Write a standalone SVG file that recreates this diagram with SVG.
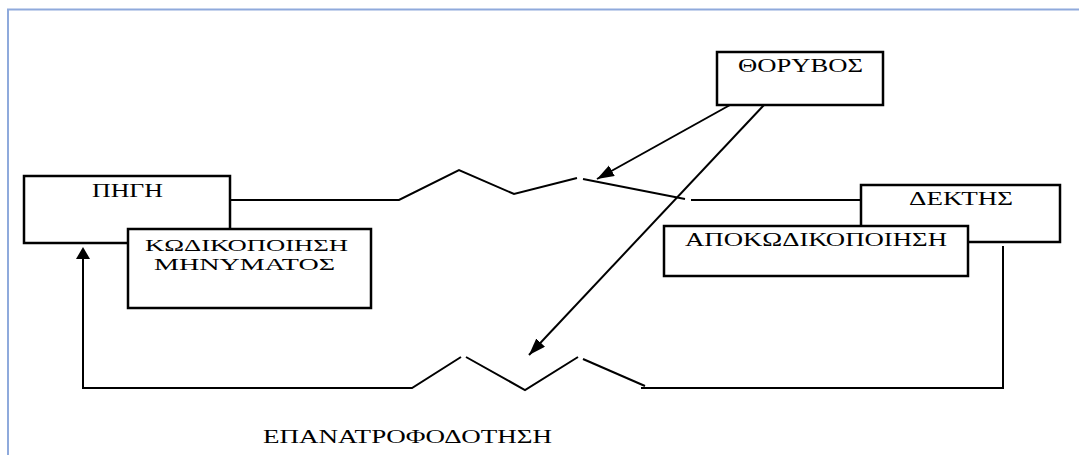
<svg xmlns="http://www.w3.org/2000/svg" width="1079" height="455" viewBox="0 0 1079 455">
<style>
.box{fill:#fff;stroke:#000;stroke-width:2.5}
.ln{fill:none;stroke:#000;stroke-width:2;stroke-linejoin:miter}
.lbl{font-family:"Liberation Serif","Times New Roman",serif;font-size:18px;fill:#000}
.sm{font-size:16px}
</style>
<defs>
<marker id="ah" markerUnits="userSpaceOnUse" markerWidth="18" markerHeight="14" refX="17" refY="6" orient="auto">
<path d="M0,0 L17,6 L0,12 Z" fill="#000"/>
</marker>
</defs>
<rect width="1079" height="455" fill="#fff"/>
<path d="M8,455 V9.5 H1079" fill="none" stroke="#8FAADC" stroke-width="2"/>
<g id="node-pigi">
<rect class="box" x="24" y="176" width="206" height="67"/>
<text class="lbl" x="92" y="197" textLength="71" lengthAdjust="spacingAndGlyphs">ΠΗΓΗ</text>
</g>
<g id="node-kodikopoiisi">
<rect class="box" x="128" y="229" width="243" height="79"/>
<text class="lbl sm" x="145" y="251" textLength="203" lengthAdjust="spacingAndGlyphs">ΚΩΔΙΚΟΠΟΙΗΣΗ</text>
<text class="lbl sm" x="154" y="270" textLength="181" lengthAdjust="spacingAndGlyphs">ΜΗΝΥΜΑΤΟΣ</text>
</g>
<g id="node-thoryvos">
<rect class="box" x="717" y="52" width="166" height="53"/>
<text class="lbl" x="738" y="72" textLength="125" lengthAdjust="spacingAndGlyphs">ΘΟΡΥΒΟΣ</text>
</g>
<g id="node-dektis">
<rect class="box" x="861" y="185" width="199" height="57"/>
<text class="lbl" x="909" y="205" textLength="104" lengthAdjust="spacingAndGlyphs">ΔΕΚΤΗΣ</text>
</g>
<g id="node-apokodikopoiisi">
<rect class="box" x="664" y="226" width="304" height="50"/>
<text class="lbl" x="685" y="246" textLength="262" lengthAdjust="spacingAndGlyphs">ΑΠΟΚΩΔΙΚΟΠΟΙΗΣΗ</text>
</g>
<g id="connectors">
<polyline class="ln" points="231,200 399,200 459,170 514,194 577,178"/>
<polyline class="ln" points="583,179 685,199"/>
<line class="ln" x1="691" y1="200" x2="860" y2="200"/>
<polyline class="ln" points="1003,246 1003,388 641,388"/>
<polyline class="ln" points="645,386 583,359"/>
<polyline class="ln" points="578,357 525,390 466,357"/>
<polyline class="ln" points="461,357 412,388 83,388 83,258"/>
<path d="M76,259 L83,247 L90,259 Z" fill="#000"/>
<line class="ln" x1="730" y1="105" x2="597" y2="179" marker-end="url(#ah)"/>
<line class="ln" x1="764" y1="105" x2="529" y2="355" marker-end="url(#ah)"/>
</g>
<text class="lbl" x="263" y="443" textLength="289" lengthAdjust="spacingAndGlyphs">ΕΠΑΝΑΤΡΟΦΟΔΟΤΗΣΗ</text>
</svg>
